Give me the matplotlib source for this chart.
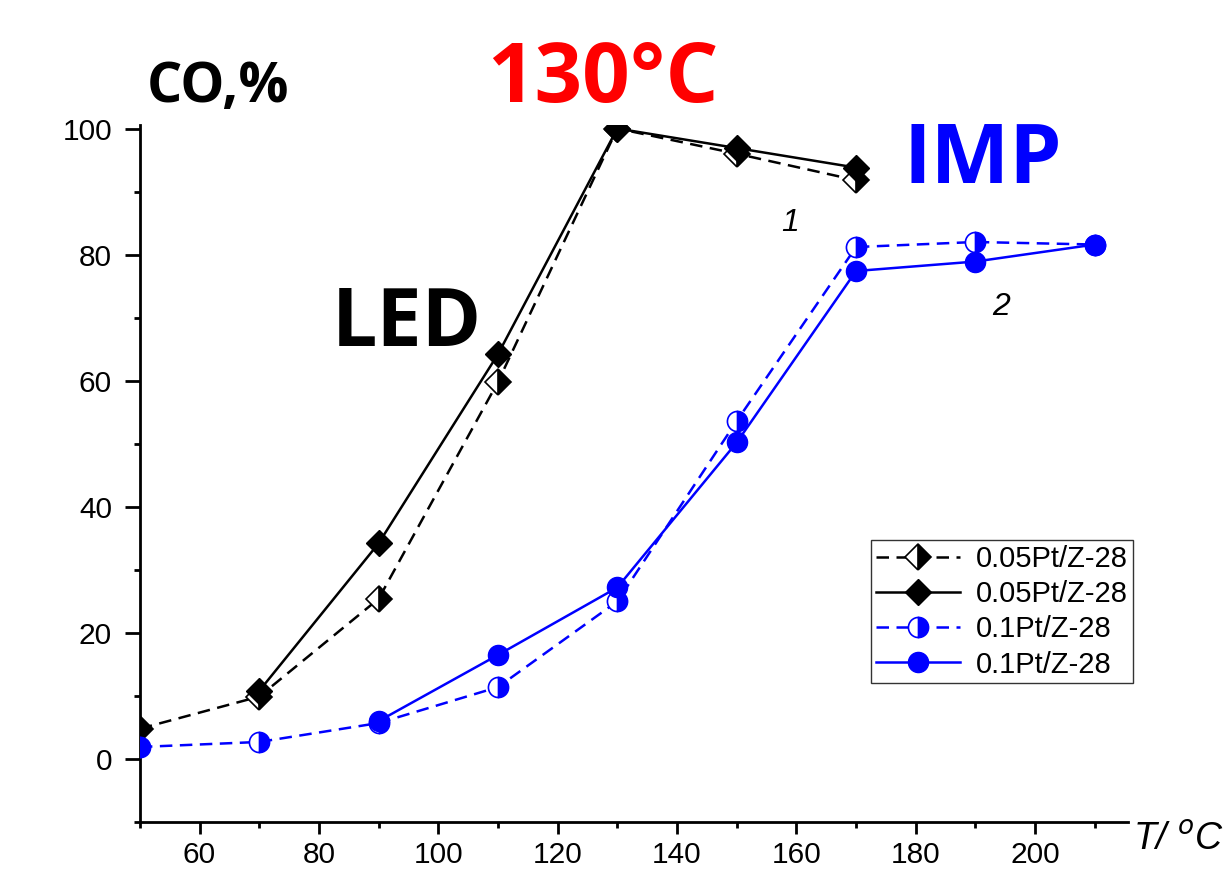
import matplotlib.pyplot as plt
from matplotlib.ticker import MultipleLocator

# sample 1: 0.05Pt/Z-28 (LED)
T1_open = [50, 70, 90, 110, 130, 150, 170]
CO1_open = [4.8, 9.9, 25.4, 59.8, 100, 96.0, 91.8]
T1_full = [70, 90, 110, 130, 150, 170]
CO1_full = [10.8, 34.2, 64.2, 100, 96.9, 93.8]

# sample 2: 0.1Pt/Z-28 (IMP)
T2_open = [50, 70, 90, 110, 130, 150, 170, 190, 210]
CO2_open = [1.9, 2.7, 5.7, 11.4, 25.0, 53.6, 81.2, 82.0, 81.6]
T2_full = [90, 110, 130, 150, 170, 190, 210]
CO2_full = [6.0, 16.5, 27.2, 50.2, 77.4, 78.9, 81.6]

LABELS = ['0.05Pt/Z-28', '0.05Pt/Z-28', '0.1Pt/Z-28', '0.1Pt/Z-28']

BLUE = '#0000ff'
DASH = (0, (5, 3))

plt.rcParams['font.family'] = ['Liberation Sans', 'DejaVu Sans']

fig = plt.figure(figsize=(12.27, 8.73), dpi=100)
ax = fig.add_axes([0.114, 0.0584, 0.805, 0.798])

ax.plot(T1_open, CO1_open, ls=DASH, color='black', lw=1.8, marker='D',
        ms=13, fillstyle='right', markerfacecolor='black',
        markerfacecoloralt='white', markeredgecolor='black', mew=1.2,
        label=LABELS[0], zorder=3)
ax.plot(T1_full, CO1_full, ls='-', color='black', lw=1.8, marker='D',
        ms=13, markerfacecolor='black', markeredgecolor='black',
        label=LABELS[1], zorder=4)
ax.plot(T2_open, CO2_open, ls=DASH, color=BLUE, lw=1.8, marker='o',
        ms=14.5, fillstyle='right', markerfacecolor=BLUE,
        markerfacecoloralt='white', markeredgecolor=BLUE, mew=1.2,
        label=LABELS[2], zorder=3)
ax.plot(T2_full, CO2_full, ls='-', color=BLUE, lw=1.8, marker='o',
        ms=14.5, markerfacecolor=BLUE, markeredgecolor=BLUE,
        label=LABELS[3], zorder=4)

ax.set_xlim(50, 215.5)
ax.set_ylim(-10, 100.5)
ax.xaxis.set_minor_locator(MultipleLocator(10))
ax.yaxis.set_minor_locator(MultipleLocator(10))
ax.set_xticks([60, 80, 100, 120, 140, 160, 180, 200])
ax.set_yticks([0, 20, 40, 60, 80, 100])

for s in ['top', 'right']:
    ax.spines[s].set_visible(False)
for s in ['left', 'bottom']:
    ax.spines[s].set_linewidth(2)
ax.tick_params(which='major', direction='out', width=2, labelsize=21.5)
ax.tick_params(axis='y', which='major', length=11, pad=9)
ax.tick_params(axis='x', which='major', length=8.5, pad=5)
ax.tick_params(which='minor', direction='out', length=4.5, width=2)

leg = ax.legend(loc='lower right', bbox_to_anchor=(1.005, 0.1995),
                borderaxespad=0, fontsize=21, frameon=True, fancybox=False,
                edgecolor='black', handlelength=2.9, borderpad=0.15,
                labelspacing=0.25, handletextpad=0.55)
leg.get_frame().set_linewidth(1.0)

fig.text(0.1195, 0.9, 'CO,%', fontsize=40, fontweight='bold',
         family='Open Sans', va='center')
fig.text(0.397, 0.908, '130°C', fontsize=60, fontweight='bold',
         family='Open Sans', color='red', va='center')
fig.text(0.736, 0.815, 'IMP', fontsize=60, fontweight='bold',
         family='Open Sans', color=BLUE, va='center')
fig.text(0.27, 0.628, 'LED', fontsize=58, fontweight='bold',
         family='Open Sans', color='black', va='center')
fig.text(0.6365, 0.745, '1', fontsize=23, style='italic', va='center')
fig.text(0.809, 0.648, '2', fontsize=23, style='italic', va='center')
fig.text(0.923, 0.017, 'T/ $^{o}$C', fontsize=27, style='italic',
         va='bottom')

fig.savefig('out.png', dpi=100)
